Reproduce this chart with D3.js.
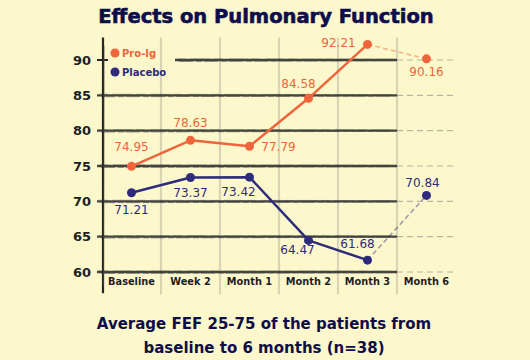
<!DOCTYPE html>
<html>
<head>
<meta charset="utf-8">
<script src="https://cdn.jsdelivr.net/npm/d3@7"></script>
<style>
html,body{margin:0;padding:0;background:#fcf8cc;}
svg{display:block;}
</style>
</head>
<body>
<svg id="chart" width="530" height="360"></svg>
<script>
// ---- data ----
const categories = ["Baseline", "Week 2", "Month 1", "Month 2", "Month 3", "Month 6"];
const proIg = [74.95, 78.63, 77.79, 84.58, 92.21, 90.16];
const placebo = [71.21, 73.37, 73.42, 64.47, 61.68, 70.84];
const yTicks = [60, 65, 70, 75, 80, 85, 90];
const seriesNames = ["Pro-Ig", "Placebo"];
const titleText = "Effects on Pulmonary Function";
const subtitleLines = ["Average FEF 25-75 of the patients from", "baseline to 6 months (n=38)"];

// ---- label placement (style) ----
const proOffsets = [[0,-19],[0,-17],[29,1],[-10,-14],[-29,-1],[0,13]];
const plaOffsets = [[0,17],[0,15],[-11,15],[-11,10],[-10,-16],[-4,-12]];

const colors = {orange:"#f0643c", navy:"#2e2b7c", title:"#0d0d4a", grid:"#262626", vgrid:"#d9d4b2", text:"#1e1e1e"};

const svg = d3.select("#chart");
svg.append("rect").attr("width",530).attr("height",360).attr("fill","#fcf8cc");

const x = d3.scaleBand().domain(categories).range([102,456]).padding(0);
const y = d3.scaleLinear().domain([60,90]).range([272,60]);
const cx = d => x(d) + x.bandwidth()/2;

// vertical light grid lines at band boundaries
const bounds = categories.slice(1).map(c => x(c));
svg.append("g").selectAll("line").data(bounds).join("line")
  .attr("x1",d=>d).attr("x2",d=>d).attr("y1",y(93.2)).attr("y2",y(56.8))
  .attr("stroke",colors.vgrid).attr("stroke-width",2.2);

// horizontal sketchy grid lines
const solidEnd = x("Month 6");
const endX = x.range()[1];
const gG = svg.append("g");
yTicks.forEach(t => {
  const start = t === 90 ? 175 : 97;
  gG.append("line").attr("x1",start).attr("x2",solidEnd).attr("y1",y(t)).attr("y2",y(t))
    .attr("stroke",colors.grid).attr("stroke-width",2.4).attr("opacity",0.85);
  gG.append("line").attr("x1",start+4).attr("x2",solidEnd-3).attr("y1",y(t)+1.4).attr("y2",y(t)+0.7)
    .attr("stroke","#444").attr("stroke-width",1).attr("opacity",0.55).attr("stroke-dasharray","14,3,6,2");
  gG.append("line").attr("x1",start+2).attr("x2",solidEnd-6).attr("y1",y(t)-1.2).attr("y2",y(t)-0.8)
    .attr("stroke","#444").attr("stroke-width",0.8).attr("opacity",0.4).attr("stroke-dasharray","9,5,20,3");
  gG.append("line").attr("x1",solidEnd).attr("x2",endX).attr("y1",y(t)).attr("y2",y(t))
    .attr("stroke","#888").attr("stroke-width",1.2).attr("opacity",0.6).attr("stroke-dasharray","6,4");
  if (t === 90) {
    gG.append("line").attr("x1",97).attr("x2",108).attr("y1",y(t)).attr("y2",y(t))
      .attr("stroke",colors.grid).attr("stroke-width",2);
  }
});

// y axis line
svg.append("line").attr("x1",103).attr("x2",103).attr("y1",y(93.2)).attr("y2",y(57.0))
  .attr("stroke",colors.grid).attr("stroke-width",2.2);
svg.append("line").attr("x1",104.2).attr("x2",103.6).attr("y1",y(92)).attr("y2",y(58))
  .attr("stroke","#555").attr("stroke-width",1).attr("opacity",0.5);

// y tick labels via axis
const yAxis = d3.axisLeft(y).tickValues(yTicks).tickSize(0).tickPadding(0);
const yg = svg.append("g").attr("transform","translate(91,0)").call(yAxis);
yg.select(".domain").remove();
yg.selectAll("text").attr("font-family","DejaVu Sans, sans-serif").attr("font-weight","bold")
  .attr("font-size",13).attr("fill",colors.text);

// x axis labels
const xAxis = d3.axisBottom(x).tickSize(0).tickPadding(0);
const xg = svg.append("g").attr("transform","translate(0,278)").call(xAxis);
xg.select(".domain").remove();
xg.selectAll("text").attr("font-family","DejaVu Sans, sans-serif").attr("font-weight","900")
  .attr("font-size",9.8).attr("fill",colors.text).attr("dy","0.71em");

// series lines
const line = d3.line().x((d,i)=>cx(categories[i])).y(d=>y(d));
function drawSeries(vals, color, offsets) {
  const g = svg.append("g");
  const solid = vals.slice(0,5);
  g.append("path").datum(solid).attr("d", line).attr("fill","none")
    .attr("stroke",color).attr("stroke-width",2.5).attr("stroke-linejoin","round");
  const lastSeg = [[cx(categories[4]), y(vals[4])],[cx(categories[5]), y(vals[5])]];
  g.append("path").attr("d", d3.line()(lastSeg)).attr("fill","none")
    .attr("stroke",color).attr("stroke-width",1.6).attr("opacity",0.45).attr("stroke-dasharray","5,3");
  g.selectAll("circle").data(vals).join("circle")
    .attr("cx",(d,i)=>cx(categories[i])).attr("cy",d=>y(d)).attr("r",4.5).attr("fill",color);
  g.selectAll("text").data(vals).join("text")
    .attr("x",(d,i)=>cx(categories[i])+offsets[i][0])
    .attr("y",(d,i)=>y(d)+offsets[i][1])
    .attr("text-anchor","middle").attr("dominant-baseline","central")
    .attr("font-family","DejaVu Sans, sans-serif").attr("font-size",12)
    .attr("fill",color).text(d=>d.toFixed(2));
}
drawSeries(proIg, colors.orange, proOffsets);
drawSeries(placebo, colors.navy, plaOffsets);

// legend
const legColors = [colors.orange, colors.navy];
const lg = svg.append("g");
seriesNames.forEach((n,i)=>{
  const ly = 53 + i*19;
  lg.append("circle").attr("cx",115).attr("cy",ly).attr("r",4.5).attr("fill",legColors[i]);
  lg.append("text").attr("x",122).attr("y",ly).attr("dominant-baseline","central")
    .attr("font-family","DejaVu Sans, sans-serif").attr("font-weight","900").attr("font-size",10)
    .attr("fill",legColors[i]).text(n);
});

// title
svg.append("text").attr("x",266).attr("y",23).attr("text-anchor","middle")
  .attr("font-family","DejaVu Sans, sans-serif").attr("font-weight","900").attr("font-size",19.5)
  .attr("fill",colors.title).attr("stroke",colors.title).attr("stroke-width",0.6).text(titleText);

// subtitle
subtitleLines.forEach((s,i)=>{
  svg.append("text").attr("x",264).attr("y",329 + i*24).attr("text-anchor","middle")
    .attr("font-family","DejaVu Sans, sans-serif").attr("font-weight","bold").attr("font-size",15)
    .attr("fill",colors.title).text(s);
});
</script>
</body>
</html>
